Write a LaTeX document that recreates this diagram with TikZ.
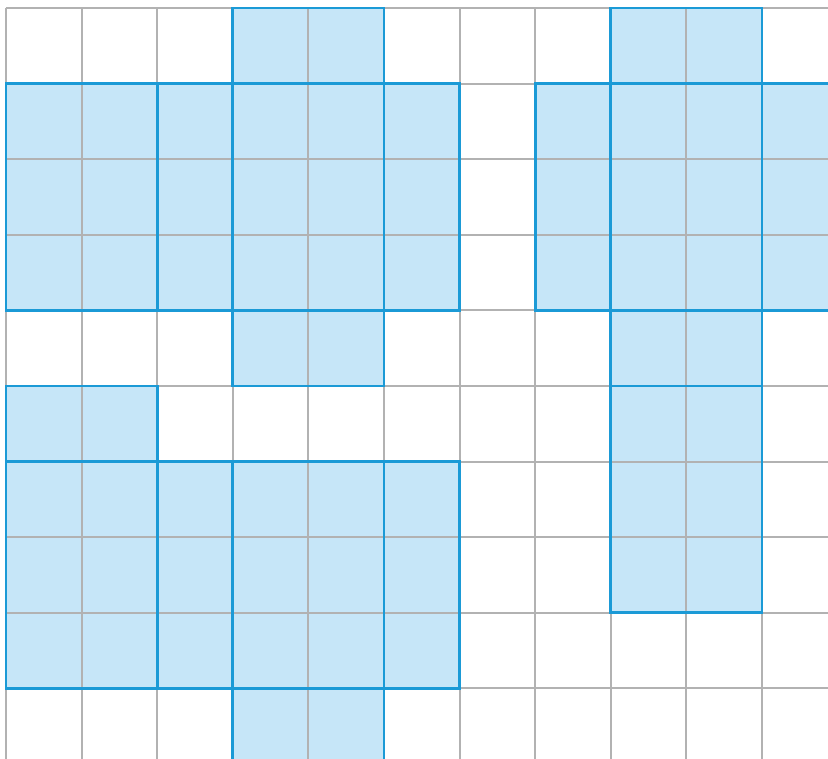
\documentclass[tikz,border=0pt]{standalone}
\definecolor{netfill}{HTML}{C6E6F8}
\definecolor{netline}{HTML}{1B9AD6}
\begin{document}
\begin{tikzpicture}[x=1cm, y=-1cm]
        \useasboundingbox (-0.079,-0.106) rectangle (10.873,9.921);
        \clip (-0.079,-0.106) rectangle (10.873,9.921);
        % faces of the three nets: x0/y0/x1/y1 in cells
        \def\netfaces{3/0/5/1, 0/1/2/4, 2/1/3/4, 3/1/5/4, 5/1/6/4, 3/4/5/5,
          8/0/10/1, 7/1/8/4, 8/1/10/4, 10/1/11/4, 8/4/10/5, 8/5/10/8,
          0/5/2/6, 0/6/2/9, 2/6/3/9, 3/6/5/9, 5/6/6/9, 3/9/5/10}
        \foreach \xa/\ya/\xb/\yb in \netfaces
          \fill[netfill] (\xa,\ya) rectangle (\xb,\yb);
        \draw[gray!60, line width=0.75pt, xstep=1, ystep=-1] (0,10) grid (11,0);
        \foreach \xa/\ya/\xb/\yb in \netfaces
          \draw[netline, line width=1.1pt] (\xa,\ya) rectangle (\xb,\yb);
      \end{tikzpicture}
\end{document}
